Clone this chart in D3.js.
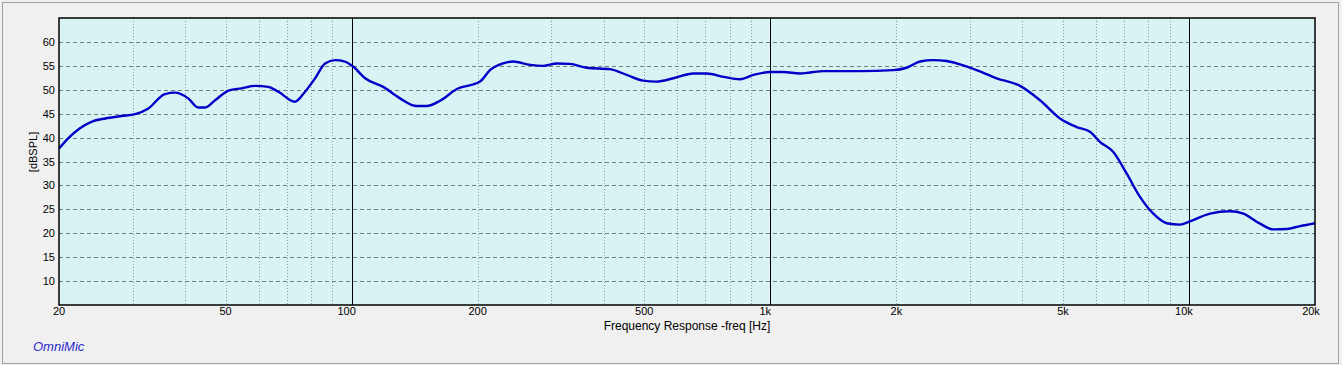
<!DOCTYPE html>
<html>
<head>
<meta charset="utf-8">
<script src="https://cdn.jsdelivr.net/npm/d3@7"></script>
<style>
  html, body { margin: 0; padding: 0; background: #f0f0f0; }
  svg { display: block; font-family: "Liberation Sans", Arial, sans-serif; }
</style>
</head>
<body>
<svg id="chart" width="1342" height="365"></svg>
<script>
// ---- data ----
const freqs = [20, 21, 22.4, 23.9, 25.8, 28.2, 30.4, 32.7, 35.8, 37.9, 40.7, 43.0, 44.7, 47.2, 50.8, 54.6, 58.8, 63.2, 66.8, 73.2, 77.4, 81.8, 86.4, 91.3, 96.4, 101, 107.7, 119, 130.5, 143, 151, 162.6, 178, 202.6, 214, 230, 243, 267, 287, 309, 332, 364, 414, 454, 497, 535, 587, 655, 705, 773, 847, 911, 1000, 1074, 1178, 1244, 1339, 1638, 1967, 2116, 2278, 2452, 2638, 2838, 3110, 3472, 3950, 4408, 4920, 5392, 5802, 6128, 6596, 7098, 7638, 8220, 8846, 9520, 10055, 11226, 12532, 13487, 14782, 15910, 17120, 18427, 20000];
const spl = [37.7, 39.8, 41.9, 43.3, 44.0, 44.5, 44.9, 46.1, 49.1, 49.4, 48.2, 46.3, 46.3, 47.8, 49.8, 50.3, 50.8, 50.6, 49.6, 47.5, 49.6, 52.4, 55.5, 56.2, 55.9, 54.8, 52.4, 50.6, 48.2, 46.6, 46.6, 47.7, 50.1, 51.7, 54.1, 55.5, 55.9, 55.2, 55.0, 55.5, 55.4, 54.6, 54.3, 53.1, 51.9, 51.7, 52.4, 53.4, 53.4, 52.7, 52.2, 53.1, 53.7, 53.7, 53.4, 53.6, 53.9, 53.9, 54.1, 54.6, 55.9, 56.2, 56.0, 55.3, 54.1, 52.4, 50.8, 47.8, 44.0, 42.2, 41.2, 39.1, 37.0, 32.5, 27.6, 24.1, 22.1, 21.8, 22.5, 24.1, 24.6, 24.1, 22.0, 20.8, 20.9, 21.5, 22.1];
const yTicks = [10, 15, 20, 25, 30, 35, 40, 45, 50, 55, 60];
const xTickValues = [20, 50, 100, 200, 500, 1000, 2000, 5000, 10000, 20000];
const xTickLabels = ["20", "50", "100", "200", "500", "1k", "2k", "5k", "10k", "20k"];
const xMinorGrid = [30, 40, 50, 60, 70, 80, 90, 200, 300, 400, 500, 600, 700, 800, 900, 2000, 3000, 4000, 5000, 6000, 7000, 8000, 9000];
const xMajorGrid = [100, 1000, 10000];
const yLabel = "[dBSPL]";
const xLabel = "Frequency Response -freq [Hz]";
const brand = "OmniMic";

// ---- layout ----
const W = 1342, H = 365;
const L = 59, R = 1315, T = 18, B = 305;

const svg = d3.select("#chart");
const x = d3.scaleLog().domain([20, 20000]).range([L, R]);
const y = d3.scaleLinear().domain([5, 65]).range([B, T]);

// outer frame
svg.append("rect").attr("x", 0).attr("y", 0).attr("width", W).attr("height", H).attr("fill", "#f0f0f0");
svg.append("rect").attr("x", 2.5).attr("y", 2.5).attr("width", 1336).attr("height", 361)
  .attr("fill", "none").attr("stroke", "#a0a0a0").attr("stroke-width", 1);

// plot background
svg.append("rect").attr("x", L).attr("y", T).attr("width", R - L).attr("height", B - T).attr("fill", "#d7f3f3");

// minor vertical grid
svg.append("g").selectAll("line").data(xMinorGrid).join("line")
  .attr("x1", d => Math.round(x(d)) + 0.5).attr("x2", d => Math.round(x(d)) + 0.5)
  .attr("y1", T).attr("y2", B)
  .attr("stroke", "#8c9c9c").attr("stroke-width", 1).attr("stroke-dasharray", "1,2");

// horizontal dashed grid
svg.append("g").selectAll("line").data(yTicks).join("line")
  .attr("x1", L).attr("x2", R)
  .attr("y1", d => Math.round(y(d)) + 0.5).attr("y2", d => Math.round(y(d)) + 0.5)
  .attr("stroke", "#6f8282").attr("stroke-width", 1).attr("stroke-dasharray", "4,3");

// major vertical lines
svg.append("g").selectAll("line").data(xMajorGrid).join("line")
  .attr("x1", d => Math.round(x(d)) + 0.5).attr("x2", d => Math.round(x(d)) + 0.5)
  .attr("y1", T).attr("y2", B)
  .attr("stroke", "#000").attr("stroke-width", 1);

// data curve
const pts = freqs.map((f, i) => [f, spl[i]]);
const line = d3.line().x(d => x(d[0])).y(d => y(d[1])).curve(d3.curveMonotoneX);
svg.append("path").datum(pts).attr("d", line)
  .attr("fill", "none").attr("stroke", "#0000c8").attr("stroke-width", 2.4)
  .attr("stroke-linejoin", "round");

// plot frame
svg.append("rect").attr("x", L).attr("y", T).attr("width", R - L).attr("height", B - T)
  .attr("fill", "none").attr("stroke", "#000").attr("stroke-width", 1.5);

// y tick labels
svg.append("g").selectAll("text").data(yTicks).join("text")
  .attr("x", 55).attr("y", d => y(d) + 4)
  .attr("text-anchor", "end").attr("font-size", 11).attr("fill", "#000")
  .text(d => d);

// x tick labels
const xOffsets = {100: -5, 1000: -5, 10000: -5, 20000: -4};
svg.append("g").selectAll("text").data(xTickValues).join("text")
  .attr("x", d => x(d) + (xOffsets[d] || 0)).attr("y", 315)
  .attr("text-anchor", "middle").attr("font-size", 11).attr("fill", "#000")
  .text((d, i) => xTickLabels[i]);

// axis titles
svg.append("text").attr("transform", "translate(37,152) rotate(-90)")
  .attr("text-anchor", "middle").attr("font-size", 11).attr("fill", "#000").text(yLabel);
svg.append("text").attr("x", 687).attr("y", 330)
  .attr("text-anchor", "middle").attr("font-size", 12).attr("fill", "#000").text(xLabel);

// brand
svg.append("text").attr("x", 33).attr("y", 351)
  .attr("font-size", 13).attr("font-style", "italic").attr("fill", "#2a2ad0").text(brand);
</script>
</body>
</html>
